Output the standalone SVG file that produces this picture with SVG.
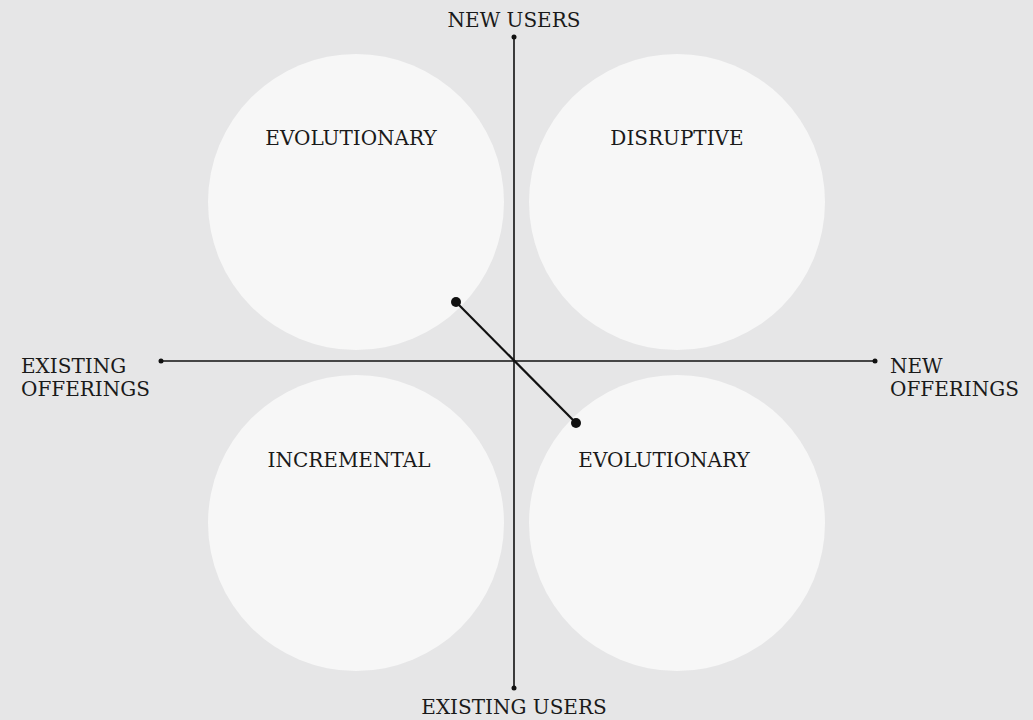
<svg xmlns="http://www.w3.org/2000/svg" width="1033" height="720" viewBox="0 0 1033 720">
<style>
.bg{fill:#e6e6e7}
.c{fill:#f7f7f7}
.ax{stroke:#111;stroke-width:1.6;fill:none}
.d{stroke:#111;stroke-width:2.2;fill:none}
.t{font-family:"DejaVu Serif","Liberation Serif",serif;font-size:20px;fill:#1a1a1a}
.m{text-anchor:middle}
</style>
<rect class="bg" width="1033" height="720"/>
<g id="node-evolutionary-top"><circle class="c" cx="356" cy="202" r="148"/><text class="t m" x="351" y="145">EVOLUTIONARY</text></g>
<g id="node-disruptive"><circle class="c" cx="677" cy="202" r="148"/><text class="t m" x="677" y="145">DISRUPTIVE</text></g>
<g id="node-incremental"><circle class="c" cx="356" cy="523" r="148"/><text class="t m" x="349" y="467">INCREMENTAL</text></g>
<g id="node-evolutionary-bottom"><circle class="c" cx="677" cy="523" r="148"/><text class="t m" x="664" y="467">EVOLUTIONARY</text></g>
<g id="connectors">
<line class="ax" x1="514" y1="37" x2="514" y2="688"/>
<line class="ax" x1="161" y1="361" x2="875" y2="361"/>
<circle cx="514" cy="37" r="2.5" fill="#111"/>
<circle cx="514" cy="688" r="2.5" fill="#111"/>
<circle cx="161" cy="361" r="2.5" fill="#111"/>
<circle cx="875" cy="361" r="2.5" fill="#111"/>
<line class="d" x1="456" y1="302" x2="576" y2="423"/>
<circle cx="456" cy="302" r="5" fill="#111"/>
<circle cx="576" cy="423" r="5" fill="#111"/>
</g>
<g id="labels">
<text class="t m" x="514" y="27">NEW USERS</text>
<text class="t m" x="514" y="714">EXISTING USERS</text>
<text class="t" x="21" y="373">EXISTING</text>
<text class="t" x="21" y="396">OFFERINGS</text>
<text class="t" x="890" y="373">NEW</text>
<text class="t" x="890" y="396">OFFERINGS</text>
</g>
</svg>
